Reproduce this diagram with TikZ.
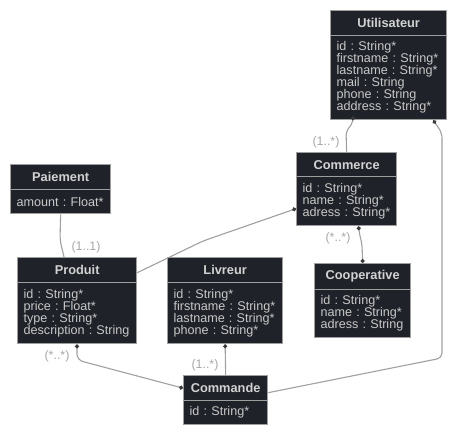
\documentclass[tikz,border=0pt]{standalone}
\usepackage{fontspec}
\setmainfont{Liberation Sans}
\usetikzlibrary{arrows.meta}
\definecolor{boxbg}{HTML}{1F2229}
\definecolor{bordc}{HTML}{9E9E9E}
\definecolor{hdrtext}{HTML}{D2D2D2}
\definecolor{bodytext}{HTML}{C8C8C8}
\definecolor{edgec}{HTML}{A0A0A0}
\definecolor{labc}{HTML}{A8A8A8}
\definecolor{mkc}{HTML}{3A3A3A}
\frenchspacing
\begin{document}
\frenchspacing
\begin{tikzpicture}[x=1pt,y=-1pt,
 hdr/.style={draw=bordc, fill=boxbg, line width=1.3pt, text=hdrtext, font=\fontsize{12.8}{14}\selectfont\bfseries, inner sep=0pt, anchor=north west},
 bdy/.style={draw=bordc, fill=boxbg, line width=1.3pt, text=bodytext, font=\fontsize{12.6}{12}\selectfont\frenchspacing, inner xsep=6pt, inner ysep=0pt, align=left, anchor=north west},
 edge/.style={draw=edgec, line width=1.1pt, rounded corners=5pt},
 card/.style={text=labc, font=\fontsize{12.4}{12}\selectfont, inner sep=0pt},
 mk/.tip={Circle[length=4pt, color=mkc, fill=mkc]}
]
\useasboundingbox[fill=white] (0,0) rectangle (454,435);

% Utilisateur
\node[hdr, minimum width=116pt, minimum height=25pt] (U) at (330,10) {Utilisateur};
\node[bdy, text width=104pt, minimum height=84pt] (Ub) at (330,35) {id : String*\\firstname : String*\\lastname : String*\\mail : String\\phone : String\\address : String*};

% Commerce
\node[hdr, minimum width=100pt, minimum height=24pt] (C) at (296,152) {Commerce};
\node[bdy, text width=88pt, minimum height=49pt] (Cb) at (296,176) {id : String*\\name : String*\\adress : String*};

% Paiement
\node[hdr, minimum width=100pt, minimum height=25pt] (Pa) at (10,164) {Paiement};
\node[bdy, text width=88pt, minimum height=24pt] (Pab) at (10,189) {amount : Float*};

% Produit
\node[hdr, minimum width=119pt, minimum height=25pt] (P) at (17,257) {Produit};
\node[bdy, text width=107pt, minimum height=61pt] (Pb) at (17,282) {id : String*\\price : Float*\\type : String*\\description : String};

% Livreur
\node[hdr, minimum width=115pt, minimum height=25pt] (L) at (167,257) {Livreur};
\node[bdy, text width=103pt, minimum height=61pt] (Lb) at (167,282) {id : String*\\firstname : String*\\lastname : String*\\phone : String*};

% Cooperative
\node[hdr, minimum width=96pt, minimum height=26pt] (Co) at (314,263) {Cooperative};
\node[bdy, text width=84pt, minimum height=48pt] (Cob) at (314,289) {id : String*\\name : String*\\adress : String};

% Commande
\node[hdr, minimum width=84pt, minimum height=25pt] (Cm) at (183,375) {Commande};
\node[bdy, text width=72pt, minimum height=24pt] (Cmb) at (183,400) {id : String*};

% connectors
\draw[edge, {mk}-] ([xshift=23pt]Ub.south west) -- (353,123) -- (346,131) -- (C.north);
\draw[edge, {mk}-] ([xshift=-14pt]Ub.south east) -- (442,133) -- (442,358) -- ([yshift=-4.5pt]Cm.east);
\draw[edge, {mk}-] ([yshift=-7.5pt]Cb.west) -- (203,241) -- ([yshift=-2.5pt]P.east);
\draw[edge, {mk}-{mk}] ([xshift=12pt]Cb.south) -- (359,232) -- (362,244) -- (Co.north);
\draw[edge] (Pab.south) -- (60,240) -- ([xshift=47pt]P.north west);
\draw[edge, rounded corners=6pt, {mk}-{mk}] ([xshift=60pt]Pb.south west) -- (77,360) -- (Cm.west);
\draw[edge, {mk}-] (Lb.south) -- (Cm.north);

% cardinalities
\node[card] (l1) at (326,142) {(1..*)};
\node[card] (l2) at (338,238) {(*..*)};
\node[card] (l3) at (86,247) {(1..1)};
\node[card] (l4) at (57,356) {(*..*)};
\node[card] (l5) at (205,365) {(1..*)};
\end{tikzpicture}
\end{document}
